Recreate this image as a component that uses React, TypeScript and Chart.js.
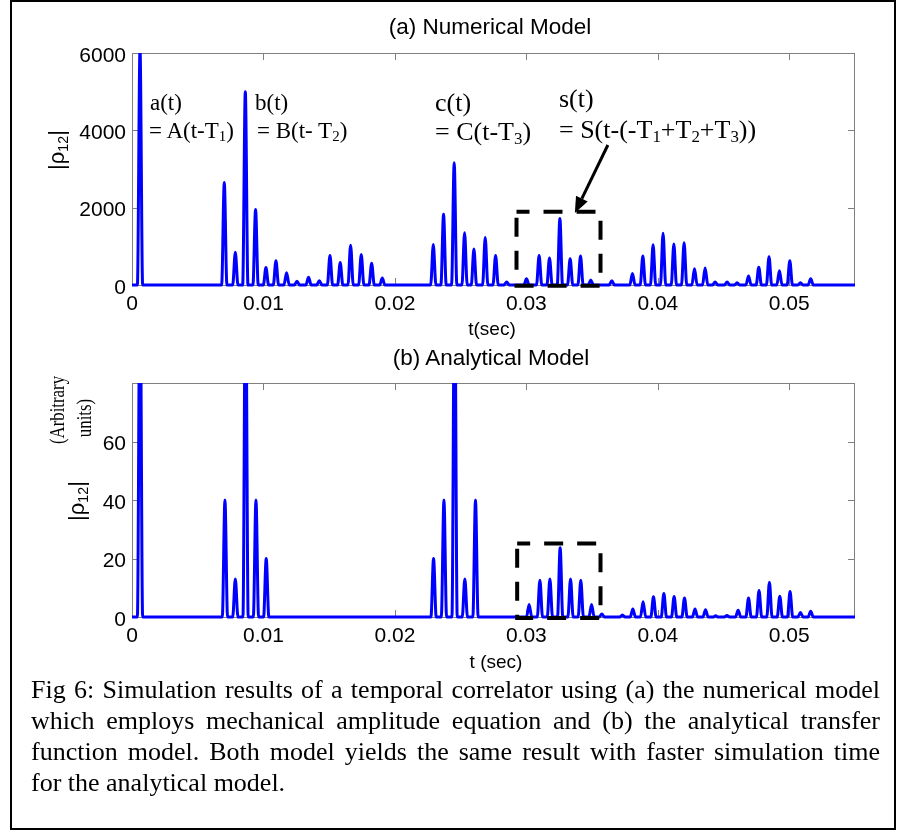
import React, { useEffect, useRef } from 'react';
import { Chart, registerables } from 'chart.js';

Chart.register(...registerables);

// ---------- data ----------
const xTicks = [0, 0.01, 0.02, 0.03, 0.04, 0.05];
const yTicksA = [0, 2000, 4000, 6000];
const yTicksB = [0, 20, 40, 60];

// (a) Numerical model: peak times (s) and |rho12| peak values
const peakTimesA = [
  0.00061, 0.00702, 0.00786, 0.00862, 0.0094, 0.01019, 0.01095, 0.01176, 0.01255, 0.01343,
  0.01425, 0.01506, 0.01584, 0.01663, 0.01744, 0.01823, 0.01904, 0.02292, 0.0237, 0.02451,
  0.0253, 0.02601, 0.02687, 0.02766, 0.0285, 0.03001, 0.03097, 0.03176, 0.03255, 0.03333,
  0.03412, 0.0349, 0.0365, 0.03807, 0.03886, 0.03964, 0.0404, 0.04122, 0.042, 0.04279,
  0.0436, 0.04436, 0.04527, 0.04603, 0.0469, 0.04768, 0.04846, 0.04925, 0.05004, 0.05085,
  0.05163,
];
const peakValuesA = [
  6100, 2650, 850, 5000, 1950, 450, 630, 320, 95, 200,
  110, 760, 580, 1030, 790, 560, 180, 1050, 1830, 3160,
  1350, 930, 1230, 760, 80, 160, 760, 700, 1720, 680,
  750, 130, 110, 300, 750, 1040, 1340, 1060, 1090, 420,
  440, 80, 80, 60, 230, 460, 730, 370, 630, 60,
  160,
];

// (b) Analytical model
const peakTimesB = [
  0.00061, 0.00707, 0.00786, 0.00864, 0.00943, 0.01021, 0.02294, 0.02373, 0.02454, 0.02532,
  0.02613, 0.03021, 0.03103, 0.03179, 0.03257, 0.03336, 0.03414, 0.03496, 0.03574, 0.03731,
  0.0381, 0.03888, 0.03967, 0.04046, 0.04124, 0.04203, 0.04283, 0.04363, 0.0444, 0.04526,
  0.04611, 0.0469, 0.0477, 0.04849, 0.04928, 0.05006, 0.05085, 0.05163,
];
const peakValuesB = [
  120, 40, 13, 120, 40, 20, 20, 40, 120, 13,
  40, 4.3, 12.6, 13, 23.7, 13, 12.6, 4.3, 1, 0.7,
  2.7, 5.2, 6.9, 8, 7, 6.5, 2.7, 2.5, 0.4, 0.5,
  2.3, 6.5, 9.1, 11.9, 7.1, 8.7, 1.5, 2,
];

// dashed highlight boxes [tStart, tEnd, yBottom, yTop]
const boxA = [0.02925, 0.03564, -20, 1896];
const boxB = [0.0293, 0.03564, -0.3, 25.1];
// arrow in (a): [tFrom, yFrom, tTo, yTo]
const arrowA = [0.0362, 3621, 0.03369, 1862];

const T_MAX = 0.055;
const PULSE_HALF_WIDTH = 0.0002;

function pulseTrain(times: number[], values: number[]) {
  const pts: { x: number; y: number }[] = [{ x: 0, y: 0 }];
  times.forEach((t, i) => {
    pts.push({ x: t - PULSE_HALF_WIDTH, y: 0 });
    pts.push({ x: t, y: values[i] });
    pts.push({ x: t + PULSE_HALF_WIDTH, y: 0 });
  });
  pts.push({ x: T_MAX, y: 0 });
  return pts;
}

const SANS = "'Liberation Sans', Arial, Helvetica, sans-serif";
const SERIF = "'Liberation Serif', 'Times New Roman', Times, serif";

// ---------- plugins ----------
const framePlugin = {
  id: 'matFrame',
  beforeDatasetsDraw(chart: any) {
    const { ctx, chartArea: a, scales } = chart;
    ctx.save();
    ctx.strokeStyle = '#808080';
    ctx.lineWidth = 1;
    ctx.strokeRect(a.left + 0.5, a.top + 0.5, a.right - a.left - 1, a.bottom - a.top);
    const tl = 7;
    ctx.beginPath();
    scales.x.ticks.forEach((tk: any) => {
      const px = Math.round(scales.x.getPixelForValue(tk.value)) + 0.5;
      ctx.moveTo(px, a.bottom);
      ctx.lineTo(px, a.bottom - tl);
      ctx.moveTo(px, a.top);
      ctx.lineTo(px, a.top + tl);
    });
    scales.y.ticks.forEach((tk: any) => {
      const py = Math.round(scales.y.getPixelForValue(tk.value)) + 0.5;
      ctx.moveTo(a.left, py);
      ctx.lineTo(a.left + tl, py);
      ctx.moveTo(a.right, py);
      ctx.lineTo(a.right - tl, py);
    });
    ctx.stroke();
    ctx.restore();
  },
};

const markPlugin = {
  id: 'marks',
  afterDatasetsDraw(chart: any, _args: any, opts: any) {
    const { ctx, scales } = chart;
    const x = scales.x;
    const y = scales.y;
    ctx.save();
    if (opts.box) {
      const [t0, t1, yb, yt] = opts.box;
      const l = x.getPixelForValue(t0);
      const r = x.getPixelForValue(t1);
      const top = y.getPixelForValue(yt);
      const bot = y.getPixelForValue(yb);
      ctx.strokeStyle = '#000';
      ctx.lineWidth = 4;
      ctx.setLineDash([19, 14]);
      ctx.lineDashOffset = 6;
      ctx.strokeRect(l, top, r - l, bot - top);
      ctx.setLineDash([]);
    }
    if (opts.arrow) {
      const [ta, va, tb, vb] = opts.arrow;
      const x0 = x.getPixelForValue(ta);
      const y0 = y.getPixelForValue(va);
      const x1 = x.getPixelForValue(tb);
      const y1 = y.getPixelForValue(vb);
      const ang = Math.atan2(y1 - y0, x1 - x0);
      const hl = 16;
      const hw = 6.5;
      const bx = x1 - hl * Math.cos(ang);
      const by = y1 - hl * Math.sin(ang);
      ctx.strokeStyle = '#000';
      ctx.fillStyle = '#000';
      ctx.lineWidth = 3;
      ctx.beginPath();
      ctx.moveTo(x0, y0);
      ctx.lineTo(bx, by);
      ctx.stroke();
      ctx.beginPath();
      ctx.moveTo(x1, y1);
      ctx.lineTo(bx + hw * Math.sin(ang), by - hw * Math.cos(ang));
      ctx.lineTo(bx - hw * Math.sin(ang), by + hw * Math.cos(ang));
      ctx.closePath();
      ctx.fill();
    }
    ctx.restore();
  },
};

function makeConfig(
  times: number[],
  values: number[],
  yMax: number,
  yTicks: number[],
  padTop: number,
  padBottom: number,
  marks: any
): any {
  return {
    type: 'line',
    data: {
      datasets: [
        {
          data: pulseTrain(times, values),
          borderColor: '#0000ff',
          borderWidth: 3,
          pointRadius: 0,
          cubicInterpolationMode: 'monotone',
          fill: false,
          clip: { left: 0, right: 0, top: 0, bottom: 3 },
        },
      ],
    },
    options: {
      animation: false,
      responsive: false,
      maintainAspectRatio: false,
      events: [],
      layout: { padding: { left: 0, right: 46, top: padTop, bottom: padBottom } },
      plugins: {
        legend: { display: false },
        tooltip: { enabled: false },
        title: { display: false },
        marks,
      },
      scales: {
        x: {
          type: 'linear',
          min: 0,
          max: T_MAX,
          afterBuildTicks: (s: any) => {
            s.ticks = xTicks.map((v) => ({ value: v }));
          },
          afterFit: (s: any) => {
            s.height = 40;
          },
          grid: { display: false, drawTicks: false },
          border: { display: false },
          ticks: {
            padding: 7,
            autoSkip: false,
            maxRotation: 0,
            color: '#000',
            font: { family: SANS, size: 21 },
            callback: (v: any) => String(v),
          },
        },
        y: {
          type: 'linear',
          min: 0,
          max: yMax,
          afterBuildTicks: (s: any) => {
            s.ticks = yTicks.map((v) => ({ value: v }));
          },
          afterFit: (s: any) => {
            s.width = 132;
          },
          grid: { display: false, drawTicks: false },
          border: { display: false },
          ticks: {
            padding: 6,
            labelOffset: 3,
            autoSkip: false,
            color: '#000',
            font: { family: SANS, size: 21 },
            callback: (v: any) => String(v),
          },
        },
      },
    },
    plugins: [framePlugin, markPlugin],
  };
}

function ChartCanvas({ config, top, height }: { config: any; top: number; height: number }) {
  const ref = useRef<HTMLCanvasElement | null>(null);
  useEffect(() => {
    if (!ref.current) return;
    const chart = new Chart(ref.current, config);
    return () => chart.destroy();
  }, [config]);
  return (
    <canvas
      ref={ref}
      width={901}
      height={height}
      style={{ position: 'absolute', left: 0, top, width: 901, height }}
    />
  );
}

function Txt({
  x,
  y,
  size,
  family,
  anchor = 'center',
  rotate = false,
  squeeze = 1,
  children,
}: any) {
  const tx = anchor === 'center' ? '-50%' : '0';
  return (
    <div
      style={{
        position: 'absolute',
        left: x,
        top: y,
        fontFamily: family,
        fontSize: size,
        lineHeight: 1,
        whiteSpace: 'nowrap',
        color: '#000',
        transform: `translate(${tx}, -50%)${rotate ? ' rotate(-90deg)' : ''}${squeeze !== 1 ? ` scaleX(${squeeze})` : ''}`,
        transformOrigin: anchor === 'center' ? 'center center' : 'left center',
      }}
    >
      {children}
    </div>
  );
}

const subStyle: React.CSSProperties = { fontSize: '0.65em', verticalAlign: '-0.25em', lineHeight: 0 };
const Sub = ({ children }: any) => <span style={subStyle}>{children}</span>;

const captionLines = [
  'Fig 6: Simulation results of a temporal correlator using (a) the numerical model',
  'which employs mechanical amplitude equation and (b) the analytical transfer',
  'function model. Both model yields the same result with faster simulation time',
  'for the analytical model.',
];

const configA = makeConfig(peakTimesA, peakValuesA, 6000, yTicksA, 53, 20, { box: boxA, arrow: arrowA });
const configB = makeConfig(peakTimesB, peakValuesB, 80, yTicksB, 38, 33, { box: boxB, arrow: null });

export default function App() {
  return (
    <div
      style={{
        position: 'absolute',
        left: 0,
        top: 0,
        width: 901,
        height: 831,
        background: '#fff',
        overflow: 'hidden',
      }}
    >
      <div
        style={{
          position: 'absolute',
          left: 10,
          top: 0,
          width: 886,
          height: 830,
          border: '2px solid #000',
          boxSizing: 'border-box',
        }}
      />
      <ChartCanvas config={configA} top={0} height={345} />
      <ChartCanvas config={configB} top={345} height={345} />

      {/* titles and axis labels */}
      <Txt x={490} y={27} size={22.5} family={SANS}>(a) Numerical Model</Txt>
      <Txt x={492} y={328} size={19} family={SANS}>t(sec)</Txt>
      <Txt x={491} y={358} size={22.5} family={SANS}>(b) Analytical Model</Txt>
      <Txt x={496} y={661} size={19} family={SANS}>t (sec)</Txt>

      <Txt x={57} y={150} size={22} family={SANS} rotate>
        |ρ<Sub>12</Sub>|
      </Txt>
      <Txt x={77} y={501} size={22} family={SANS} rotate>
        |ρ<Sub>12</Sub>|
      </Txt>
      <Txt x={57} y={410} size={21} family={SERIF} rotate squeeze={0.8}>(Arbitrary</Txt>
      <Txt x={84} y={418} size={21} family={SERIF} rotate squeeze={0.8}>units)</Txt>

      {/* annotations in (a) */}
      <Txt x={150} y={102} size={23} family={SERIF} anchor="left">a(t)</Txt>
      <Txt x={149} y={130} size={23} family={SERIF} anchor="left">
        = A(t-T<Sub>1</Sub>)
      </Txt>
      <Txt x={255} y={102} size={23} family={SERIF} anchor="left">b(t)</Txt>
      <Txt x={257} y={130} size={23} family={SERIF} anchor="left">
        = B(t- T<Sub>2</Sub>)
      </Txt>
      <Txt x={435} y={103} size={26} family={SERIF} anchor="left">c(t)</Txt>
      <Txt x={435} y={132} size={26} family={SERIF} anchor="left">
        = C(t-T<Sub>3</Sub>)
      </Txt>
      <Txt x={559} y={99} size={26} family={SERIF} anchor="left">s(t)</Txt>
      <Txt x={559} y={130} size={26} family={SERIF} anchor="left">
        = S(t-(-T<Sub>1</Sub>+T<Sub>2</Sub>+T<Sub>3</Sub>))
      </Txt>

      {/* caption */}
      <div
        style={{
          position: 'absolute',
          left: 31,
          top: 674,
          width: 849,
          fontFamily: SERIF,
          fontSize: 26,
          lineHeight: '31px',
          color: '#000',
        }}
      >
        {captionLines.map((line, i) => (
          <div
            key={i}
            style={{
              textAlign: 'justify',
              textAlignLast: i < captionLines.length - 1 ? 'justify' : 'left',
              whiteSpace: 'nowrap',
            }}
          >
            {line}
          </div>
        ))}
      </div>
    </div>
  );
}
